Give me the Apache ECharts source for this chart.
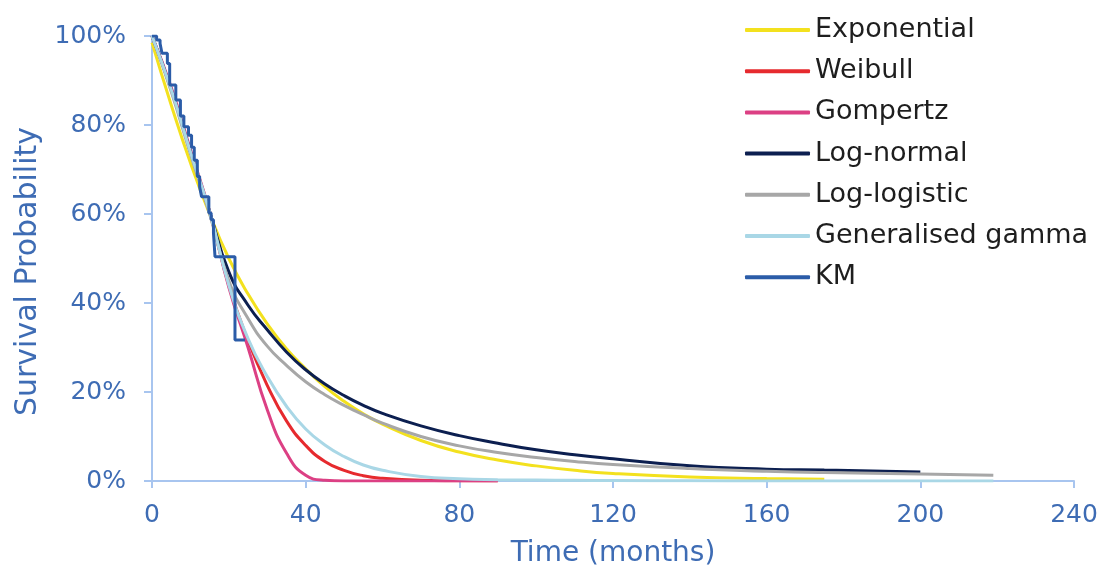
<!DOCTYPE html>
<html>
<head>
<meta charset="utf-8">
<script src="https://cdn.jsdelivr.net/npm/echarts@6.0.0/dist/echarts.min.js"></script>
<style>
  html, body { margin: 0; padding: 0; background: #ffffff; }
  #chart { width: 1110px; height: 575px; }
</style>
</head>
<body>
<div id="chart"></div>
<script>
// ---- data (survival probability in %) ----
const months = [0, 5, 10, 15, 20, 25, 30, 35, 40, 45, 50, 55, 60, 70, 80, 90, 100, 110, 120, 140, 160, 175, 200, 219];

const exponential = [98.5, 84.5, 71.5, 60, 50, 42, 35.3, 29.7, 25.2, 21.2, 17.9, 15.1, 12.8, 9.1, 6.5, 4.7, 3.4, 2.4, 1.7, 0.9, 0.55, 0.4, null, null];
const weibull     = [100, 88, 74, 60.5, 44, 31.5, 21.5, 13.5, 8, 4.4, 2.4, 1.2, 0.6, 0.15, 0.05, 0, null, null, null, null, null, null, null, null];
const gompertz    = [100, 88.5, 74.5, 60.5, 43.5, 30, 16, 6.3, 1.3, 0.15, 0, 0, 0, 0, 0, 0, null, null, null, null, null, null, null, null];
const logNormal   = [100, 88, 74, 60.5, 47, 39.5, 34, 29, 25, 21.8, 19.2, 17, 15.2, 12.4, 10.2, 8.5, 7.0, 5.9, 5.0, 3.4, 2.65, 2.45, 2.05, null];
const logLogistic = [100, 87.5, 73.5, 60, 45, 36.5, 30.3, 26, 22.3, 19.4, 17, 14.9, 13, 10, 7.9, 6.4, 5.3, 4.4, 3.7, 2.8, 2.2, 1.9, 1.6, 1.3];
const genGamma    = [100, 88, 74, 60.5, 44, 32, 23.5, 16.8, 11.7, 8.1, 5.5, 3.6, 2.4, 1.0, 0.5, 0.3, 0.2, 0.15, 0.1, 0.05, 0, 0, 0, 0];

const kmTimes    = [0, 1.2, 2.1, 2.6, 4.0, 4.6, 6.2, 7.4, 8.3, 9.5, 10.3, 11.0, 11.8, 12.4, 12.9, 14.8, 15.4, 16.0, 16.4, 21.6, 24.2];
const kmSurvival = [100, 99.1, 98.3, 96.1, 93.8, 89.0, 85.6, 82.0, 79.6, 77.7, 75.0, 72.1, 68.4, 66.1, 63.9, 60.2, 58.7, 55.7, 50.4, 31.7, 31.7];

const xTicks = [0, 40, 80, 120, 160, 200, 240];
const yTicks = [0, 20, 40, 60, 80, 100];

const seriesNames  = ['Exponential', 'Weibull', 'Gompertz', 'Log-normal', 'Log-logistic', 'Generalised gamma', 'KM'];
const seriesColors = ['#f3e11e', '#e62a2e', '#dc4084', '#0c1f50', '#a7a7a7', '#a9d7e6', '#2b5ca8'];

// ---- build ----
function pairs(xs, ys) {
  const out = [];
  for (let i = 0; i < xs.length; i++) if (ys[i] !== null) out.push([xs[i], ys[i]]);
  return out;
}
const curves = [exponential, weibull, gompertz, logNormal, logLogistic, genGamma];

const FONT = 'DejaVu Sans';
const LABEL_BLUE = '#3e6cb4';
const AXIS_BLUE = '#a8c5ef';

const series = curves.map((vals, i) => ({
  name: seriesNames[i],
  type: 'line',
  data: pairs(months, vals),
  smooth: true,
  symbol: 'none',
  lineStyle: { width: 3, color: seriesColors[i] },
  itemStyle: { color: seriesColors[i] },
  z: 2 + i,
  animation: false
}));
series.push({
  name: seriesNames[6],
  type: 'line',
  data: pairs(kmTimes, kmSurvival),
  step: 'end',
  symbol: 'none',
  lineStyle: { width: 3, color: seriesColors[6] },
  itemStyle: { color: seriesColors[6] },
  z: 10,
  animation: false
});

const chart = echarts.init(document.getElementById('chart'), null, { renderer: 'canvas' });
chart.setOption({
  backgroundColor: '#ffffff',
  animation: false,
  grid: { left: 152, right: 36, top: 36, bottom: 94 },
  legend: {
    orient: 'vertical',
    left: 740,
    top: 11,
    icon: 'roundRect',
    itemWidth: 65,
    itemHeight: 4,
    itemGap: 13.2,
    data: seriesNames,
    textStyle: { fontFamily: FONT, fontSize: 27, lineHeight: 28, color: '#1e1e1e' }
  },
  xAxis: {
    type: 'value',
    min: xTicks[0],
    max: xTicks[xTicks.length - 1],
    interval: xTicks[1] - xTicks[0],
    name: 'Time (months)',
    nameLocation: 'middle',
    nameGap: 59,
    nameTextStyle: { fontFamily: FONT, fontSize: 28, color: LABEL_BLUE },
    axisLine: { show: true, lineStyle: { color: AXIS_BLUE, width: 2 } },
    axisTick: { show: true, length: 7, lineStyle: { color: AXIS_BLUE, width: 2 } },
    axisLabel: { fontFamily: FONT, fontSize: 25, color: LABEL_BLUE, margin: 22 },
    splitLine: { show: false }
  },
  yAxis: {
    type: 'value',
    min: yTicks[0],
    max: yTicks[yTicks.length - 1],
    interval: yTicks[1] - yTicks[0],
    name: 'Survival Probability',
    nameLocation: 'middle',
    nameGap: 106,
    nameTextStyle: { fontFamily: FONT, fontSize: 30, color: LABEL_BLUE, padding: [0, 26, 0, 0] },
    axisLine: { show: true, lineStyle: { color: AXIS_BLUE, width: 2 } },
    axisTick: { show: true, length: 8, lineStyle: { color: AXIS_BLUE, width: 2 } },
    axisLabel: { fontFamily: FONT, fontSize: 25, color: LABEL_BLUE, margin: 26, formatter: '{value}%' },
    splitLine: { show: false }
  },
  series: series
});
</script>
</body>
</html>
